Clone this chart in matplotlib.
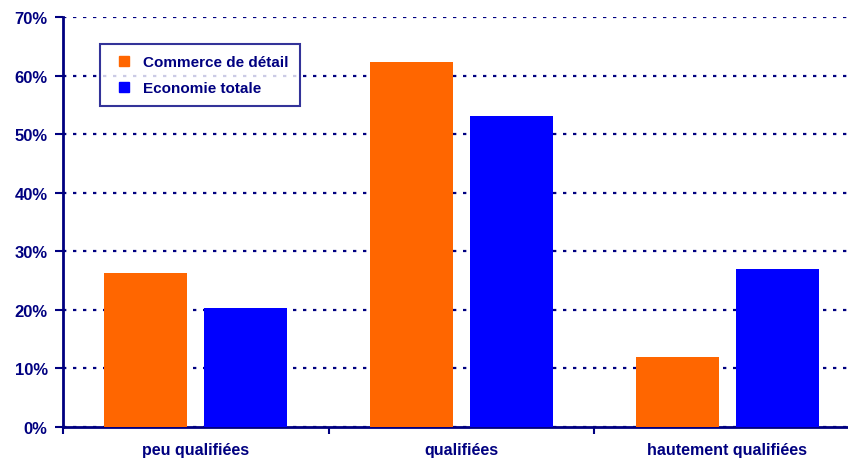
import numpy as np
import matplotlib.pyplot as plt
from matplotlib.lines import Line2D
from matplotlib.ticker import FuncFormatter, FixedLocator

categories = ["peu qualifiées", "qualifiées", "hautement qualifiées"]
commerce = [26.3, 62.3, 12.0]
economie = [20.3, 53.1, 27.0]
series_names = ["Commerce de détail", "Economie totale"]
colors = ["#FF6600", "#0000FF"]

navy = "#000080"
plt.rcParams["font.family"] = ["Liberation Sans", "DejaVu Sans"]
plt.rcParams["font.weight"] = "bold"

W, H = 848, 460
fig = plt.figure(figsize=(W / 100, H / 100), dpi=100)
ax = fig.add_axes([63 / W, 32 / H, (860 - 63) / W, (428 - 18) / H])

x = np.arange(len(categories))
w = 0.3126
ax.bar(x - 0.188, commerce, w, color=colors[0], zorder=3)
ax.bar(x + 0.188, economie, w, color=colors[1], zorder=3)

ax.set_xlim(-0.5, 2.5)
ax.set_ylim(0, 70)
ax.set_yticks(np.arange(0, 71, 10))
ax.yaxis.set_major_formatter(FuncFormatter(lambda v, p: f"{v:.0f}%"))
ax.yaxis.grid(True, color=navy, linestyle=(0, (1.5, 3)), linewidth=1.6, zorder=1)

# category labels sit between the boundary ticks
ax.xaxis.set_major_locator(FixedLocator([-0.5, 0.5, 1.5, 2.5]))
ax.xaxis.set_minor_locator(FixedLocator(x))
ax.set_xticklabels([])
ax.set_xticklabels(categories, minor=True)
ax.tick_params(axis="x", which="minor", length=0, pad=11)
ax.tick_params(axis="x", which="major", length=5, width=1.5, color=navy, direction="out")
ax.tick_params(axis="y", length=6, width=1.5, color=navy, direction="out", pad=5)
for lab in ax.get_xticklabels(minor=True) + ax.get_yticklabels():
    lab.set_color(navy)
    lab.set_fontsize(11.5)
    lab.set_fontweight("bold")
for lab in ax.get_yticklabels():
    lab.set_fontsize(12)

for s in ["top", "right"]:
    ax.spines[s].set_visible(False)
for s in ["left", "bottom"]:
    ax.spines[s].set_color(navy)
    ax.spines[s].set_linewidth(2)

handles = [Line2D([], [], marker="s", linestyle="none", markersize=7,
                  markerfacecolor=c, markeredgecolor=c) for c in colors]
leg = ax.legend(handles, series_names, loc="upper left",
                bbox_to_anchor=((100 - 63) / (860 - 63), (428 - 45) / 410),
                frameon=True, fancybox=False, handlelength=1.6,
                handletextpad=0.45, borderpad=0.75, labelspacing=0.75, borderaxespad=0,
                fontsize=11, edgecolor=navy)
leg.get_frame().set_linewidth(1.5)
for t in leg.get_texts():
    t.set_color(navy)
    t.set_fontweight("bold")

fig.savefig("out.png", dpi=100)
